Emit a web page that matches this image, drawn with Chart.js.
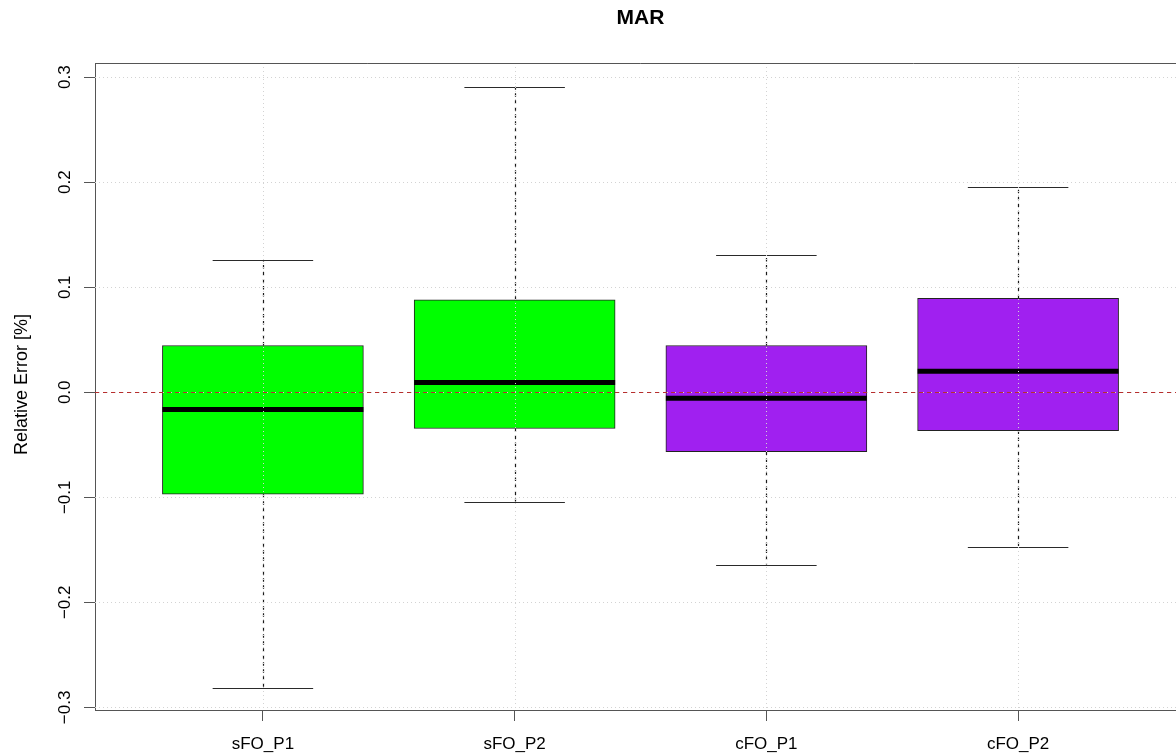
<!DOCTYPE html>
<html>
<head>
<meta charset="utf-8">
<script src="https://cdn.jsdelivr.net/npm/chart.js@4/dist/chart.umd.min.js"></script>
<style>
  html, body { margin: 0; padding: 0; background: #ffffff; overflow: hidden; }
  #wrap { width: 1200px; height: 756px; position: relative; }
</style>
</head>
<body>
<div id="wrap"><canvas id="c" width="1200" height="756"></canvas></div>
<script>
// ---- data ----
const chartTitle = 'MAR';
const yAxisTitle = 'Relative Error [%]';
const categories = ['sFO_P1', 'sFO_P2', 'cFO_P1', 'cFO_P2'];
const positions = [1, 2, 3, 4];
const lowerWhisker = [-0.2815, -0.104, -0.164, -0.147];
const q1 = [-0.0970, -0.0345, -0.0565, -0.0365];
const median = [-0.0163, 0.0093, -0.0057, 0.0200];
const q3 = [0.0445, 0.0880, 0.0445, 0.0895];
const upperWhisker = [0.1255, 0.2910, 0.1310, 0.1950];
const boxColors = ['#00FF00', '#00FF00', '#A020F0', '#A020F0'];
const yTickValues = [-0.3, -0.2, -0.1, 0.0, 0.1, 0.2, 0.3];
const yTickLabels = ['\u22120.3', '\u22120.2', '\u22120.1', '0.0', '0.1', '0.2', '0.3'];
const refLineValue = 0;

const FONT = '"Liberation Sans", Arial, sans-serif';

const boxData = positions.map((p, i) => ({ x: p, y: [q1[i], q3[i]] }));

const boxPlugin = {
  id: 'boxExtras',
  afterDatasetsDraw(chart) {
    const ctx = chart.ctx;
    const xs = chart.scales.x, ys = chart.scales.y;
    const area = chart.chartArea;
    const meta = chart.getDatasetMeta(0);
    ctx.save();
    ctx.beginPath();
    ctx.rect(area.left, area.top, area.right - area.left, area.bottom - area.top);
    ctx.clip();
    // whiskers, staples, medians
    meta.data.forEach((el, i) => {
      const x = Math.round(el.x) + 0.5;
      const w = el.width;
      const yQ1 = ys.getPixelForValue(q1[i]);
      const yQ3 = ys.getPixelForValue(q3[i]);
      const yLo = ys.getPixelForValue(lowerWhisker[i]);
      const yHi = ys.getPixelForValue(upperWhisker[i]);
      const yMed = ys.getPixelForValue(median[i]);
      ctx.strokeStyle = '#1a1a1a';
      ctx.lineWidth = 1.2;
      ctx.setLineDash([3.5, 3.5]);
      ctx.beginPath();
      ctx.moveTo(x, yQ3); ctx.lineTo(x, yHi);
      ctx.moveTo(x, yQ1); ctx.lineTo(x, yLo);
      ctx.stroke();
      ctx.setLineDash([]);
      ctx.strokeStyle = '#2a2a2a';
      ctx.lineWidth = 1.2;
      ctx.beginPath();
      ctx.moveTo(el.x - w / 4, Math.round(yHi) + 0.5); ctx.lineTo(el.x + w / 4, Math.round(yHi) + 0.5);
      ctx.moveTo(el.x - w / 4, Math.round(yLo) + 0.5); ctx.lineTo(el.x + w / 4, Math.round(yLo) + 0.5);
      ctx.stroke();
      ctx.strokeStyle = '#000';
      ctx.lineWidth = 5;
      ctx.lineCap = 'butt';
      ctx.beginPath();
      ctx.moveTo(el.x - w / 2, yMed); ctx.lineTo(el.x + w / 2, yMed);
      ctx.stroke();
    });
    // dotted grid over the boxes
    ctx.strokeStyle = '#d3d3d3';
    ctx.lineWidth = 1;
    ctx.setLineDash([1, 3]);
    ctx.beginPath();
    xs.ticks.forEach(t => {
      const px = Math.round(xs.getPixelForValue(t.value)) + 0.5;
      ctx.moveTo(px, area.top); ctx.lineTo(px, area.bottom);
    });
    ys.ticks.forEach(t => {
      const py = Math.round(ys.getPixelForValue(t.value)) + 0.5;
      ctx.moveTo(area.left, py); ctx.lineTo(area.right, py);
    });
    ctx.stroke();
    // reference line at zero
    ctx.strokeStyle = '#b82e2e';
    ctx.setLineDash([4, 4]);
    ctx.beginPath();
    const y0 = Math.round(ys.getPixelForValue(refLineValue)) + 0.5;
    ctx.moveTo(area.left, y0); ctx.lineTo(area.right, y0);
    ctx.stroke();
    ctx.restore();

    // top / right frame
    ctx.save();
    ctx.strokeStyle = '#555';
    ctx.lineWidth = 1;
    ctx.beginPath();
    ctx.moveTo(area.left, Math.round(area.top) + 0.5);
    ctx.lineTo(area.right + 0.5, Math.round(area.top) + 0.5);
    ctx.lineTo(area.right + 0.5, area.bottom);
    ctx.stroke();
    ctx.restore();
  },
  afterDraw(chart) {
    const ctx = chart.ctx;
    const ys = chart.scales.y;
    const area = chart.chartArea;
    ctx.save();
    ctx.fillStyle = '#000';
    // y tick labels (rotated, reading upward)
    ctx.font = '17px ' + FONT;
    ctx.textAlign = 'center';
    ctx.textBaseline = 'alphabetic';
    yTickValues.forEach((v, i) => {
      const py = ys.getPixelForValue(v);
      ctx.save();
      ctx.translate(70, py);
      ctx.rotate(-Math.PI / 2);
      ctx.fillText(yTickLabels[i], 0, 0);
      ctx.restore();
    });
    // y axis title
    ctx.font = '18px ' + FONT;
    ctx.save();
    ctx.translate(27, (area.top + area.bottom) / 2 - 2);
    ctx.rotate(-Math.PI / 2);
    ctx.fillText(yAxisTitle, 0, 0);
    ctx.restore();
    // main title
    ctx.font = 'bold 21px ' + FONT;
    ctx.textBaseline = 'middle';
    ctx.fillText(chartTitle, (area.left + area.right) / 2, 18);
    ctx.restore();
  }
};

new Chart(document.getElementById('c'), {
  type: 'bar',
  data: {
    datasets: [{
      data: boxData,
      backgroundColor: boxColors,
      borderColor: '#222',
      borderWidth: 1,
      borderSkipped: false,
      barThickness: 201
    }]
  },
  options: {
    responsive: false,
    animation: false,
    events: [],
    layout: { padding: { top: 63, right: 14, left: 0, bottom: 0 } },
    plugins: { legend: { display: false }, tooltip: { enabled: false }, title: { display: false } },
    scales: {
      x: {
        type: 'linear',
        min: 0.333,
        max: 4.667,
        offset: false,
        afterFit: (s) => { s.height = 46; },
        afterBuildTicks: (s) => { s.ticks = positions.map(v => ({ value: v })); },
        ticks: {
          stepSize: 1,
          includeBounds: false,
          autoSkip: false,
          maxRotation: 0,
          padding: 13,
          color: '#000',
          font: { family: FONT, size: 17 },
          callback: (v) => { const i = positions.indexOf(v); return i >= 0 ? categories[i] : ''; }
        },
        grid: { offset: false, drawOnChartArea: false, drawTicks: true, tickLength: 11, tickColor: '#555', tickWidth: 1 },
        border: { display: true, color: '#555', width: 1 }
      },
      y: {
        type: 'linear',
        min: -0.3025,
        max: 0.3135,
        afterFit: (s) => { s.width = 95; },
        afterBuildTicks: (s) => { s.ticks = yTickValues.map(v => ({ value: v })); },
        ticks: { display: false, includeBounds: false, stepSize: 0.1 },
        grid: { drawOnChartArea: false, drawTicks: true, tickLength: 11, tickColor: '#555', tickWidth: 1 },
        border: { display: true, color: '#555', width: 1 }
      }
    }
  },
  plugins: [boxPlugin]
});
</script>
</body>
</html>
